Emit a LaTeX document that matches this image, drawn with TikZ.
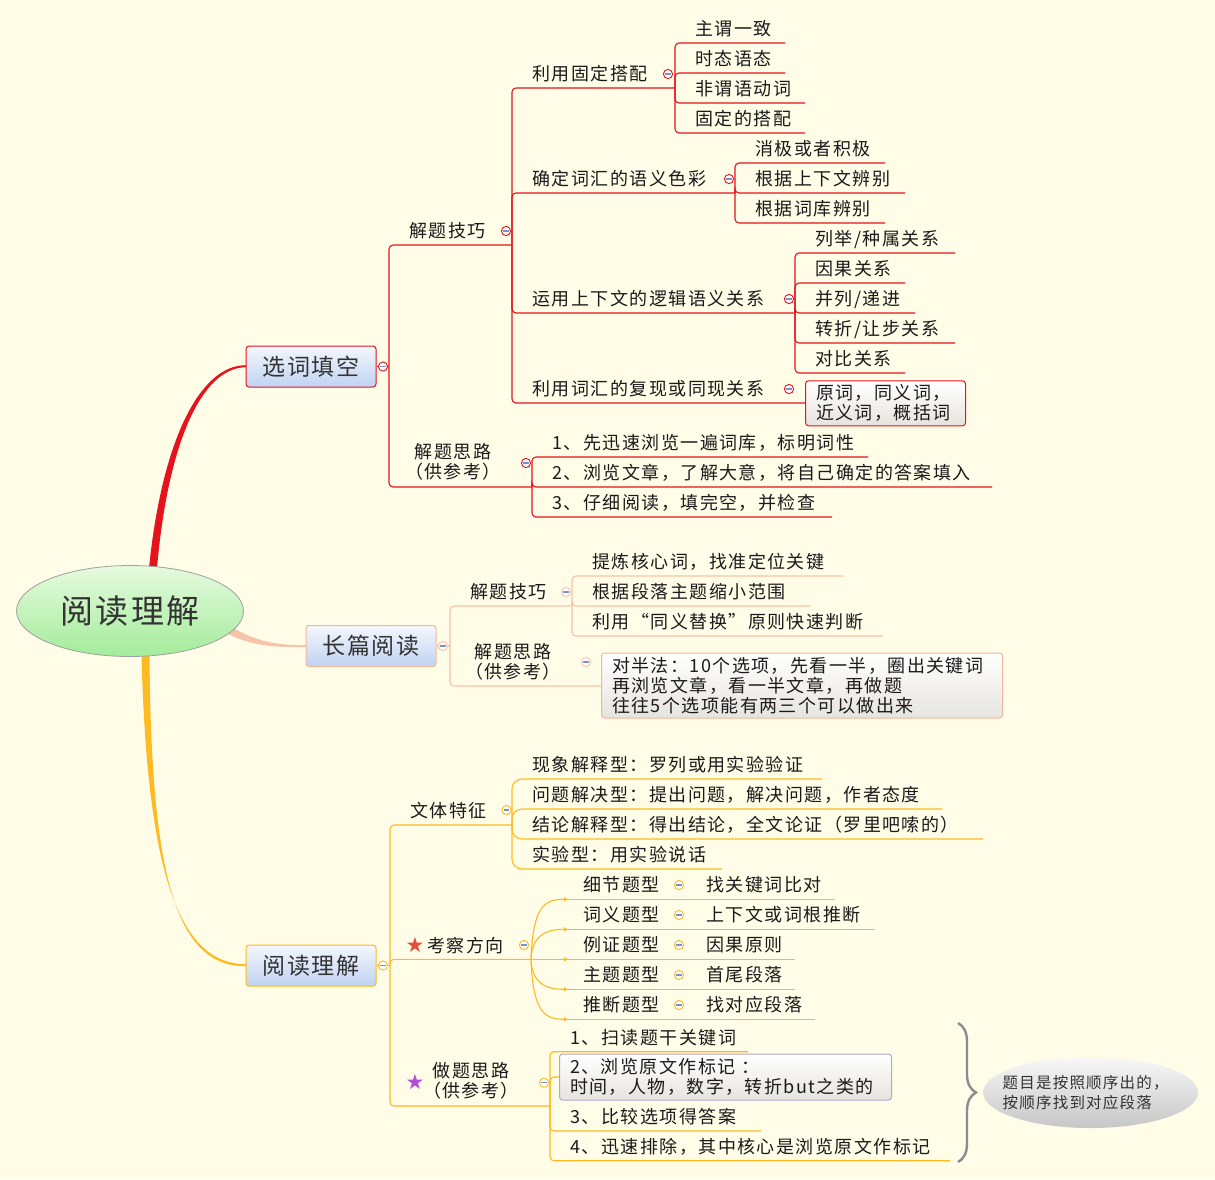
\documentclass[tikz,border=0pt]{standalone}
\usepackage{fontspec}
\newfontfamily\cjk{Noto Sans CJK SC}[LetterSpace=8.0]
\newfontfamily\symf{DejaVu Sans}
\usetikzlibrary{shapes.geometric,arrows.meta,decorations.pathreplacing}
\definecolor{bg}{HTML}{FFFDE8}
\definecolor{cred}{HTML}{E5131D}
\definecolor{csal}{HTML}{F7C3A9}
\definecolor{csalB}{HTML}{F4B79A}
\definecolor{corg}{HTML}{FDBA21}
\definecolor{minusc}{HTML}{7F8FCB}
\definecolor{boxTop}{HTML}{F4F7FD}
\definecolor{boxBot}{HTML}{BFD3F1}
\definecolor{rootTop}{HTML}{E6FADF}
\definecolor{rootBot}{HTML}{A3EC9A}
\definecolor{noteTop}{HTML}{FFFFFF}
\definecolor{noteBot}{HTML}{E6E4DE}
\definecolor{lav}{HTML}{B4A6CC}
\definecolor{calTop}{HTML}{F8F8F8}
\definecolor{calBot}{HTML}{C6C6C6}
\definecolor{txt}{HTML}{1A1A1A}
\definecolor{txtb}{HTML}{333333}
\definecolor{starred}{HTML}{E84C3D}
\definecolor{starpur}{HTML}{B04FD6}
\newcommand\lf[7]{%
  \draw[rounded corners=4pt,#2] (#3,#4) |- (#6,#5);
  \node[leaf] (#1) at ({#3+20},{#5-7.5}) {#7};}
\newcommand\cl[3]{%
  \draw[#1,fill=white,line width=0.9pt] (#2,#3) circle[radius=4.6pt];
  \draw[minusc,line width=1.2pt] ({#2-2.6},#3) -- ({#2+2.6},#3);}
\begin{document}
\begin{tikzpicture}[x=1pt,y=-1pt,line width=1.1pt,
  leaf/.style={anchor=base west,inner sep=0pt,font=\cjk\fontsize{18}{20}\selectfont,text=txt},
  mline/.style={anchor=center,align=center,inner sep=0pt,font=\cjk\fontsize{18}{20}\selectfont,text=txt},
  bbox/.style={rectangle,rounded corners=3pt,line width=1pt,top color=boxTop,bottom color=boxBot,
    minimum width=130pt,minimum height=41pt,inner sep=0pt,font=\cjk\fontsize{23}{25}\selectfont,text=txtb},
  note/.style={rectangle,rounded corners=3pt,line width=1pt,top color=noteTop,bottom color=noteBot,
    anchor=west,align=left,inner xsep=10.5pt,inner ysep=0pt,font=\cjk\fontsize{18}{20}\selectfont,text=txt},
  rootn/.style={ellipse,draw=gray!75,line width=0.8pt,top color=rootTop,bottom color=rootBot,
    minimum width=227pt,minimum height=91pt,inner sep=0pt,font=\cjk\fontsize{33}{36}\selectfont,text=txtb},
  callout/.style={ellipse,top color=calTop,bottom color=calBot,minimum width=215pt,minimum height=71pt,
    inner sep=0pt},
  callt/.style={inner sep=0pt,align=left,font=\cjk\fontsize{15.5}{20}\selectfont,text=txtb},
  starn/.style={inner sep=0pt,font=\symf\fontsize{21}{21}\selectfont},
  tip/.style={-{Triangle[length=4pt,width=4pt]}}]
\fill[bg] (0,0) rectangle (1215,1179);
\useasboundingbox (0,0) rectangle (1215,1179);

% ---------- root connectors ----------
\fill[cred] (149,568) .. controls (162,440) and (200,365) .. (246,365.2) -- (246,367.2) .. controls (202,367.5) and (168,442) .. (157,568) -- cycle;
\fill[csal] (226,624) .. controls (256,642) and (276,645.2) .. (306,645.2) -- (306,647) .. controls (274,647.5) and (252,646) .. (226,633) -- cycle;
\fill[corg] (141.5,655) .. controls (147,870) and (178,964.2) .. (246,964.2) -- (246,966.2) .. controls (174,967) and (151,870) .. (149.5,655) -- cycle;

\node[rootn] (root) at (130,611) {阅读理解};

\node[bbox,draw=cred] (b1) at (311,366.5) {选词填空};
\node[bbox,draw=csalB] (b2) at (371,646) {长篇阅读};
\node[bbox,draw=corg] (b3) at (311,965.5) {阅读理解};

% ---------- branch 1 ----------
\draw[cred] (b1.east) -- (389,366.5);
\lf{jt1}{cred}{389}{366.5}{245}{512}{解题技巧}
\draw[cred,rounded corners=4pt] (389,366.5) |- (532,487);
\node[mline] (js1) at (453,462) {解题思路\\（供参考）};

\lf{a1}{cred}{512}{245}{88}{675}{利用固定搭配}
\lf{a2}{cred}{512}{245}{193}{735}{确定词汇的语义色彩}
\lf{a3}{cred}{512}{245}{313}{795}{运用上下文的逻辑语义关系}
\lf{a4}{cred}{512}{245}{403}{805}{利用词汇的复现或同现关系}

\lf{a11}{cred}{675}{88}{43}{785}{主谓一致}
\lf{a12}{cred}{675}{88}{73}{785}{时态语态}
\lf{a13}{cred}{675}{88}{103}{805}{非谓语动词}
\lf{a14}{cred}{675}{88}{133}{805}{固定的搭配}

\lf{a21}{cred}{735}{193}{163}{885}{消极或者积极}
\lf{a22}{cred}{735}{193}{193}{905}{根据上下文辨别}
\lf{a23}{cred}{735}{193}{223}{885}{根据词库辨别}

\lf{a31}{cred}{795}{313}{253}{955}{列举/种属关系}
\lf{a32}{cred}{795}{313}{283}{905}{因果关系}
\lf{a33}{cred}{795}{313}{313}{915}{并列/递进}
\lf{a34}{cred}{795}{313}{343}{955}{转折/让步关系}
\lf{a35}{cred}{795}{313}{373}{905}{对比关系}

\node[note,draw=cred,text width=139pt,minimum height=45pt] (n1) at (805,403.3) {原词，同义词，\\近义词，概括词};

\lf{c1}{cred}{532}{487}{457}{868}{1、先迅速浏览一遍词库，标明词性}
\lf{c2}{cred}{532}{487}{487}{992}{2、浏览文章，了解大意，将自己确定的答案填入}
\lf{c3}{cred}{532}{487}{517}{832}{3、仔细阅读，填完空，并检查}

\cl{cred}{383}{366.5}
\cl{cred}{506}{231}
\cl{cred}{526}{463}
\cl{cred}{668}{74}
\cl{cred}{729}{179}
\cl{cred}{789}{299}
\cl{cred}{789}{389}

% ---------- branch 2 ----------
\draw[csal] (b2.east) -- (450,646);
\lf{d1}{csal}{450}{646}{606}{572}{解题技巧}
\draw[csal,rounded corners=4pt] (450,646) |- (601,686);
\node[mline] (ds1) at (513,662) {解题思路\\（供参考）};

\lf{e1}{csal}{572}{606}{576}{843}{提炼核心词，找准定位关键}
\lf{e2}{csal}{572}{606}{606}{810}{根据段落主题缩小范围}
\lf{e3}{csal}{572}{606}{636}{883}{利用“同义替换”原则快速判断}

\node[note,draw=csalB,text width=380pt,minimum height=65pt] (n2) at (601,685.5)
  {对半法：10个选项，先看一半，圈出关键词\\再浏览文章，看一半文章，再做题\\往往5个选项能有两三个可以做出来};

\cl{csal}{443}{646}
\cl{csal}{566}{592}
\cl{csal}{586}{662}

% ---------- branch 3 ----------
\draw[corg] (b3.east) -- (390,965.5);
\lf{f1}{corg}{390}{965.5}{825}{512}{文体特征}
\lf{g1}{corg,rounded corners=10pt}{512}{825}{779}{822}{现象解释型：罗列或用实验验证}
\lf{g2}{corg,rounded corners=10pt}{512}{825}{809}{942}{问题解决型：提出问题，解决问题，作者态度}
\lf{g3}{corg,rounded corners=10pt}{512}{825}{839}{983}{结论解释型：得出结论，全文论证（罗里吧嗦的）}
\lf{g4}{corg,rounded corners=10pt}{512}{825}{869}{722}{实验型：用实验说话}

% 考察方向
\draw[corg,rounded corners=4pt] (390,965.5) |- (531,959.3);
\node[starn,text=starred] (s1) at (415,945) {★};
\node[leaf,anchor=base west] (k0) at (427,952.5) {考察方向};
\coordinate (kj) at (531,959.3);
\draw[corg,tip] (kj) .. controls (533,905) and (545,899.3) .. (568,899.3);
\draw[corg,tip] (kj) .. controls (532,936) and (545,929.3) .. (568,929.3);
\draw[corg,tip] (kj) -- (568,959.3);
\draw[corg,tip] (kj) .. controls (532,983) and (545,989.3) .. (568,989.3);
\draw[corg,tip] (kj) .. controls (533,1013) and (545,1019.3) .. (568,1019.3);
\draw[corg] (566,899.3) -- (835,899.3);
\draw[corg] (566,929.3) -- (875,929.3);
\draw[corg] (566,959.3) -- (795,959.3);
\draw[corg] (566,989.3) -- (795,989.3);
\draw[corg] (566,1019.3) -- (815,1019.3);
\node[leaf] (k1) at (583,891.8) {细节题型};
\node[leaf] (k1c) at (706,891.8) {找关键词比对};
\node[leaf] (k2) at (583,921.8) {词义题型};
\node[leaf] (k2c) at (706,921.8) {上下文或词根推断};
\node[leaf] (k3) at (583,951.8) {例证题型};
\node[leaf] (k3c) at (706,951.8) {因果原则};
\node[leaf] (k4) at (583,981.8) {主题题型};
\node[leaf] (k4c) at (706,981.8) {首尾段落};
\node[leaf] (k5) at (583,1011.8) {推断题型};
\node[leaf] (k5c) at (706,1011.8) {找对应段落};

% 做题思路
\draw[corg,rounded corners=4pt] (390,965.5) |- (550,1106);
\node[starn,text=starpur] (s2) at (415,1081.5) {★};
\node[mline] (zs) at (471,1081) {做题思路\\（供参考）};
\lf{h1}{corg}{550}{1106}{1051.7}{748}{1、扫读题干关键词}
\draw[corg,rounded corners=4pt] (550,1106) |- (559,1077);
\node[note,draw=lav,text width=311pt,minimum height=46pt] (n3) at (559,1077)
  {2、浏览原文作标记 ：\\时间，人物，数字，转折but之类的};
\lf{h3}{corg}{550}{1106}{1131}{761}{3、比较选项得答案}
\lf{h4}{corg}{550}{1106}{1160.7}{950}{4、迅速排除，其中核心是浏览原文作标记}

\cl{corg}{383}{965.5}
\cl{corg}{506.5}{810}
\cl{corg}{524}{945}
\cl{corg}{544}{1082.7}
\foreach \yy in {885,915,945,975,1005} {\cl{corg}{679}{\yy}}

% brace and callout
\coordinate (bt) at (958,1023);
\coordinate (bb) at (958,1162);
\draw[gray!90,line width=2.4pt,decorate,decoration={brace,amplitude=18pt}] (bt) -- (bb);
\node[callout] (co) at (1090.5,1092.5) {};
\node[callt,anchor=west] (cot) at (1002,1092.5) {题目是按照顺序出的，\\按顺序找到对应段落};
\end{tikzpicture}
\end{document}
